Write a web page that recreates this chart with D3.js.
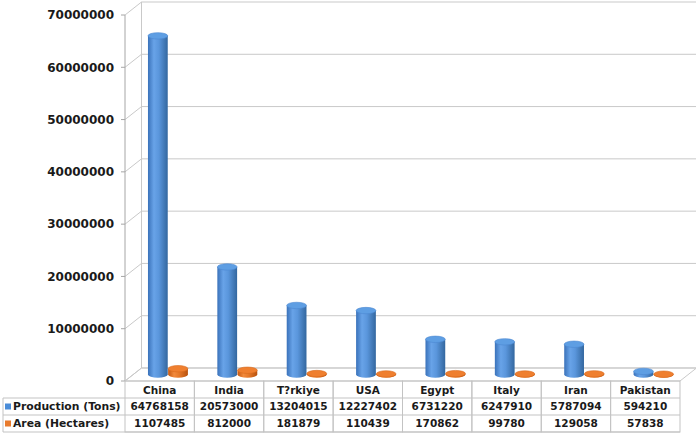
<!DOCTYPE html>
<html><head><meta charset="utf-8">
<script src="https://cdn.jsdelivr.net/npm/d3@7"></script>
<style>
html,body{margin:0;padding:0;background:#fff;}
svg{display:block;}
text{font-family:"DejaVu Sans",Verdana,sans-serif;font-weight:bold;fill:#1a1a1a;}
</style></head>
<body>
<svg id="chart" width="696" height="438"></svg>
<script>
const categories = ["China","India","T?rkiye","USA","Egypt","Italy","Iran","Pakistan"];
const seriesNames = ["Production (Tons)","Area (Hectares)"];
const production = [64768158,20573000,13204015,12227402,6731220,6247910,5787094,594210];
const area = [1107485,812000,181879,110439,170862,99780,129058,57838];
const yTicks = [0,10000000,20000000,30000000,40000000,50000000,60000000,70000000];

const svg = d3.select("#chart");
const W = 696, H = 438;
const frontLeft = 125, frontRight = 680, depthX = 16.5, depthY = -13;
const yFront = d3.scaleLinear().domain([0,70000000]).range([381,15]);
const yBack = d3.scaleLinear().domain([0,70000000]).range([381+depthY,15+depthY]);
const yMid = d3.scaleLinear().domain([0,70000000]).range([381+depthY/2,15+depthY/2]);
const x = d3.scaleBand().domain(categories).range([frontLeft,frontRight]).padding(0);
const xs = d3.scaleBand().domain(seriesNames).range([0,x.bandwidth()]).paddingInner(0).paddingOuter(0.72);

const gridColor = "#c9c9c9";
const defs = svg.append("defs");
function grad(id, stops){
  const g = defs.append("linearGradient").attr("id",id).attr("x1","0%").attr("x2","100%").attr("y1","0%").attr("y2","0%");
  stops.forEach(s=>g.append("stop").attr("offset",s[0]).attr("stop-color",s[1]));
}
grad("gBlue",[["0%","#3a72ba"],["30%","#68a3e8"],["55%","#5a96dc"],["100%","#33679f"]]);
grad("gOrange",[["0%","#c5570f"],["30%","#f28a3c"],["55%","#e6792a"],["100%","#b8520d"]]);
const topColor = {"Production (Tons)":"#5e9ee3","Area (Hectares)":"#ef7f2f"};
const bodyFill = {"Production (Tons)":"url(#gBlue)","Area (Hectares)":"url(#gOrange)"};
const rimColor = {"Production (Tons)":"#4b88d2","Area (Hectares)":"#d96a1c"};
const legendColor = {"Production (Tons)":"#4a8cd8","Area (Hectares)":"#e87b2d"};

// back wall gridlines
const g = svg.append("g");
g.selectAll(".grid").data(yTicks).enter().append("line")
  .attr("x1",frontLeft+depthX).attr("x2",W)
  .attr("y1",d=>yBack(d)).attr("y2",d=>yBack(d))
  .attr("stroke",gridColor).attr("stroke-width",1);
// left wall diagonals
g.selectAll(".diag").data(yTicks).enter().append("line")
  .attr("x1",frontLeft).attr("x2",frontLeft+depthX)
  .attr("y1",d=>yFront(d)).attr("y2",d=>yBack(d))
  .attr("stroke",gridColor).attr("stroke-width",1);
// ticks
g.selectAll(".tick").data(yTicks).enter().append("line")
  .attr("x1",frontLeft-4).attr("x2",frontLeft)
  .attr("y1",d=>yFront(d)).attr("y2",d=>yFront(d))
  .attr("stroke","#a6a6a6");
// left wall edges
g.append("line").attr("x1",frontLeft).attr("x2",frontLeft).attr("y1",yFront(70000000)).attr("y2",yFront(0)).attr("stroke","#a6a6a6");
g.append("line").attr("x1",frontLeft+depthX).attr("x2",frontLeft+depthX).attr("y1",yBack(70000000)).attr("y2",yBack(0)).attr("stroke",gridColor);
// floor
g.append("path")
  .attr("d",`M${frontLeft},${yFront(0)}L${frontRight},${yFront(0)}L${frontRight+depthX},${yBack(0)}L${frontLeft+depthX},${yBack(0)}Z`)
  .attr("fill","none").attr("stroke",gridColor);

// axis labels
g.selectAll(".ylab").data(yTicks).enter().append("text")
  .attr("x",frontLeft-11).attr("y",d=>yFront(d)).attr("dy","0.36em")
  .attr("text-anchor","end").attr("font-size",12).text(d=>d3.format("d")(d));

// bars
const rx = xs.bandwidth()/2 - 0.2, ry = 3.2;
const bars = [];
categories.forEach((c,i)=>{
  bars.push({c, s:seriesNames[0], v:production[i]});
  bars.push({c, s:seriesNames[1], v:area[i]});
});
const bg = svg.append("g");
bars.forEach(b=>{
  const cx = x(b.c) + xs(b.s) + xs.bandwidth()/2 + depthX/2;
  const yb = yMid(0), yt = yMid(b.v);
  bg.append("path")
    .attr("d",`M${cx-rx},${yt}L${cx-rx},${yb}A${rx},${ry} 0 0 0 ${cx+rx},${yb}L${cx+rx},${yt}Z`)
    .attr("fill",bodyFill[b.s]);
  bg.append("ellipse").attr("cx",cx).attr("cy",yt).attr("rx",rx).attr("ry",ry)
    .attr("fill",topColor[b.s]).attr("stroke",rimColor[b.s]).attr("stroke-width",0.6);
});

// data table
const rowTop = yFront(0), rowH = 17;
const legendLeft = 3;
const tg = svg.append("g");
const border = "#c3c3c3";
categories.forEach(c=>{
  tg.append("rect").attr("x",x(c)).attr("y",rowTop).attr("width",x.bandwidth()).attr("height",rowH*3)
    .attr("fill","none").attr("stroke",border);
  tg.append("text").attr("x",x(c)+x.bandwidth()/2).attr("y",rowTop+rowH/2+1).attr("dy","0.36em")
    .attr("text-anchor","middle").attr("font-size",10.5).text(c);
});
const rows = [production, area];
seriesNames.forEach((s,r)=>{
  const ry0 = rowTop + rowH*(r+1);
  tg.append("line").attr("x1",legendLeft).attr("x2",frontRight).attr("y1",ry0).attr("y2",ry0).attr("stroke",border);
  tg.append("rect").attr("x",legendLeft+2).attr("y",ry0+rowH/2-3).attr("width",6).attr("height",6).attr("fill",legendColor[s]);
  tg.append("text").attr("x",legendLeft+10).attr("y",ry0+rowH/2).attr("dy","0.36em")
    .attr("font-size",10.8).text(s);
  categories.forEach((c,i)=>{
    tg.append("text").attr("x",x(c)+x.bandwidth()/2).attr("y",ry0+rowH/2).attr("dy","0.36em")
      .attr("text-anchor","middle").attr("font-size",10.5).text(rows[r][i]);
  });
});
tg.append("line").attr("x1",legendLeft).attr("x2",frontRight).attr("y1",rowTop+rowH*3).attr("y2",rowTop+rowH*3).attr("stroke",border);
tg.append("line").attr("x1",legendLeft).attr("x2",legendLeft).attr("y1",rowTop+rowH).attr("y2",rowTop+rowH*3).attr("stroke",border);
</script>
</body></html>
